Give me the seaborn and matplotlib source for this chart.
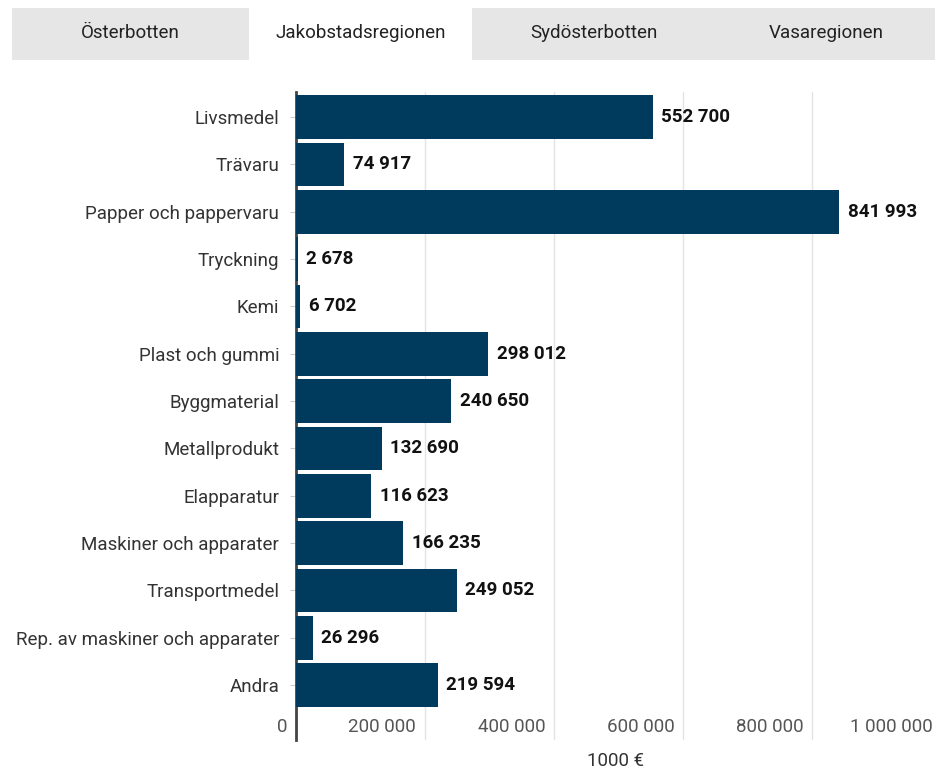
import matplotlib.pyplot as plt
import matplotlib.transforms as mtransforms
from matplotlib.patches import Rectangle
import seaborn as sns

categories = ['Livsmedel', 'Trävaru', 'Papper och pappervaru', 'Tryckning', 'Kemi',
              'Plast och gummi', 'Byggmaterial', 'Metallprodukt', 'Elapparatur',
              'Maskiner och apparater', 'Transportmedel',
              'Rep. av maskiner och apparater', 'Andra']
values = [552700, 74917, 841993, 2678, 6702, 298012, 240650, 132690, 116623,
          166235, 249052, 26296, 219594]
x_ticks = [0, 200000, 400000, 600000, 800000, 1000000]
tabs = ['Österbotten', 'Jakobstadsregionen', 'Sydösterbotten', 'Vasaregionen']

def fmt(v):
    return f'{v:,}'.replace(',', ' ')

sns.set_style('white')
plt.rcParams['font.family'] = ['Roboto', 'DejaVu Sans']
FS = 13.5

fig = plt.figure(figsize=(9.35, 7.69), dpi=100)

# flikar överst
fig.patches.append(Rectangle((12 / 935, 1 - 60 / 769), (935 - 12) / 935, 52 / 769,
                             transform=fig.transFigure, facecolor='#e6e6e6',
                             edgecolor='none'))
fig.patches.append(Rectangle((249 / 935, 1 - 60 / 769), (472 - 249) / 935, 54 / 769,
                             transform=fig.transFigure, facecolor='white',
                             edgecolor='none'))
for i, t in enumerate(tabs):
    cx = [130, 361, 594, 826][i]
    fig.text(cx / 935, 1 - 33 / 769, t, ha='center', va='center',
             fontsize=FS, color='#222222')

ax = fig.add_axes([296 / 935, 1 - 740 / 769, (935 - 296) / 935, (740 - 92) / 769])
sns.barplot(x=values, y=categories, color='#003a5c', orient='h', width=0.92,
            saturation=1, linewidth=0, ax=ax, zorder=3)

ax.bar_label(ax.containers[0], labels=[fmt(v) for v in values], padding=6,
             fontsize=FS, fontweight='bold', color='#111111')

ax.set_xlim(0, 990000)
ax.set_ylim(12 + 1.16, -0.53)

for x in x_ticks[1:]:
    ax.axvline(x, color='#e3e3e3', lw=1, zorder=0)

ax.set_xticks([])
off = mtransforms.offset_copy(ax.transData, fig=fig, x=-9, y=0, units='dots')
for x in x_ticks:
    ax.text(x, 12.89, fmt(x), transform=off, ha='right', va='center',
            fontsize=FS, color='#555555', clip_on=False)

ax.set_xlabel('1000 €', fontsize=FS, color='#333333', labelpad=9)

for s in ['top', 'right', 'bottom']:
    ax.spines[s].set_visible(False)
ax.spines['left'].set_color('#444444')
ax.spines['left'].set_linewidth(2)
ax.tick_params(axis='y', length=4, color='#cccccc', labelsize=FS,
               labelcolor='#333333', pad=8, left=True)
ax.set_ylabel('')

fig.savefig('out.png', dpi=100)
